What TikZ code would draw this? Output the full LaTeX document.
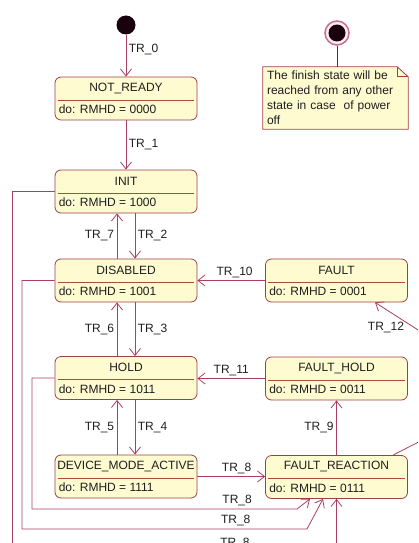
\documentclass[tikz,border=0pt]{standalone}
\usepackage{fontspec}
\setmainfont{Liberation Sans}
\usetikzlibrary{arrows.meta,backgrounds}

\definecolor{stfill}{RGB}{255,251,209}
\definecolor{stdraw}{RGB}{160,62,72}
\definecolor{stsep}{RGB}{175,75,55}
\definecolor{trline}{RGB}{168,64,96}
\definecolor{txt}{RGB}{30,30,30}

\tikzset{
  every node/.style={font=\fontsize{12}{15}\selectfont, text=txt},
  state/.style={draw=stdraw, fill=stfill, rounded corners=6pt, minimum width=142pt, minimum height=43pt, line width=0.8pt},
  stitle/.style={inner sep=0pt},
  sdo/.style={anchor=west, inner sep=0pt},
  sepline/.style={draw=stsep, line width=0.8pt},
  tr/.style={draw=trline, line width=0.8pt, -{Straight Barb[length=7pt,width=11pt]}},
  trlabel/.style={inner sep=2.5pt},
  inidot/.style={circle, fill={rgb,255:red,25;green,0;blue,12}, inner sep=0pt, minimum size=19pt},
  finstate/.style={circle, draw={rgb,255:red,200;green,110;blue,140}, line width=1.5pt, fill={rgb,255:red,252;green,236;blue,241}, inner sep=0pt, minimum size=24pt},
  notebox/.style={minimum width=145pt, minimum height=62pt, text width=137pt, align=left, inner xsep=4pt, inner ysep=2pt},
  noteline/.style={draw={rgb,255:red,60;green,60;blue,60}, line width=0.8pt},
}

% state box: name, centre, title, do-line
\newcommand{\umlstate}[4]{%
  \node[state] (#1) at (#2) {};
  \node[stitle] (#1-t) at ([yshift=-11.5pt]#1.north) {#3};
  \draw[sepline] ([shift={(3pt,-23.5pt)}]#1.north west) -- ([shift={(-3pt,-23.5pt)}]#1.north east);
  \node[sdo] (#1-d) at ([shift={(4pt,-33pt)}]#1.north west) {#4};
}

\begin{document}
\begin{tikzpicture}[x=1pt, y=-1pt]
  \useasboundingbox (0,0) rectangle (418,543);
  \clip (0,0) rectangle (418,543);

  % start and finish
  \node[inidot] (ini) at (126,25) {};
  \node[finstate] (fin) at (337,33) {};
  \fill[fill={rgb,255:red,25;green,0;blue,12}] (fin.center) circle (8.5pt);

  % note
  \node[notebox] (note) at (335.5,98) {The finish state will be\\reached from any other\\state in case\ \ of power\\off};
  \begin{scope}[on background layer]
    \draw[draw=stdraw, fill=stfill, line width=0.8pt] (note.north west) -- ([xshift=-11pt]note.north east) -- ([yshift=-10pt]note.north east) -- (note.south east) -- (note.south west) -- cycle;
    \draw[stdraw, line width=0.8pt] ([xshift=-11pt]note.north east) |- ([yshift=-10pt]note.north east);
  \end{scope}
  \draw[noteline] (fin) -- (fin |- note.north);

  % states
  \umlstate{notready}{126,98.5}{NOT\_READY}{do: RMHD = 0000}
  \umlstate{init}{126,191.5}{INIT}{do: RMHD = 1000}
  \umlstate{disabled}{126,280.5}{DISABLED}{do: RMHD = 1001}
  \umlstate{hold}{126,378}{HOLD}{do: RMHD = 1011}
  \umlstate{dma}{126,476.5}{DEVICE\_MODE\_ACTIVE}{do: RMHD = 1111}
  \umlstate{fault}{336.5,280.5}{FAULT}{do: RMHD = 0001}
  \umlstate{faulthold}{336.5,378.5}{FAULT\_HOLD}{do: RMHD = 0011}
  \umlstate{freact}{336.5,477}{FAULT\_REACTION}{do: RMHD = 0111}

  % transitions, left column
  \draw[tr] (ini) -- (notready) node[trlabel, right, pos=0.36] {TR\_0};
  \draw[tr] (notready) -- (init) node[trlabel, right, midway] {TR\_1};
  \draw[tr] ([xshift=9pt]init.south) -- ([xshift=9pt]disabled.north) node[trlabel, right, midway] {TR\_2};
  \draw[tr] ([xshift=-9pt]disabled.north) -- ([xshift=-9pt]init.south) node[trlabel, left, midway] {TR\_7};
  \draw[tr] ([xshift=9pt]disabled.south) -- ([xshift=9pt]hold.north) node[trlabel, right, midway] {TR\_3};
  \draw[tr] ([xshift=-9pt]hold.north) -- ([xshift=-9pt]disabled.south) node[trlabel, left, midway] {TR\_6};
  \draw[tr] ([xshift=9pt]hold.south) -- ([xshift=9pt]dma.north) node[trlabel, right, midway] {TR\_4};
  \draw[tr] ([xshift=-9pt]dma.north) -- ([xshift=-9pt]hold.south) node[trlabel, left, midway] {TR\_5};

  % transitions, fault side
  \draw[tr] (fault.west) -- (fault.west -| disabled.east) node[trlabel, above, pos=0.45] {TR\_10};
  \draw[tr] (faulthold.west) -- (faulthold.west -| hold.east) node[trlabel, above, pos=0.5] {TR\_11};
  \draw[tr] (freact) -- (faulthold) node[trlabel, left, midway] {TR\_9};
  \draw[tr] (dma.east) -- (dma.east -| freact.west) node[trlabel, above, pos=0.58] {TR\_8};
  \draw[tr] ([xshift=56.5pt]freact.north) -- (440,431) -- (440,344) -- ([xshift=38.5pt]fault.south);
  \node[trlabel] (l12) at (386,327) {TR\_12};

  % TR_8 from the other states
  \draw[tr] (hold.west) -- (32,378) -- (32,509) -- node[trlabel, above, pos=0.774] {TR\_8} (297,509) -- ([xshift=-26.5pt]freact.south);
  \draw[tr] (disabled.west) -- (22,280.5) -- (22,529) -- node[trlabel, above, pos=0.75] {TR\_8} (307,529) -- ([xshift=-13.5pt]freact.south);
  \draw[tr] (init.west) -- (12,191.5) -- (12,552) -- node[trlabel, above, pos=0.687] {TR\_8} (336.5,552) -- (freact.south);
\end{tikzpicture}
\end{document}
